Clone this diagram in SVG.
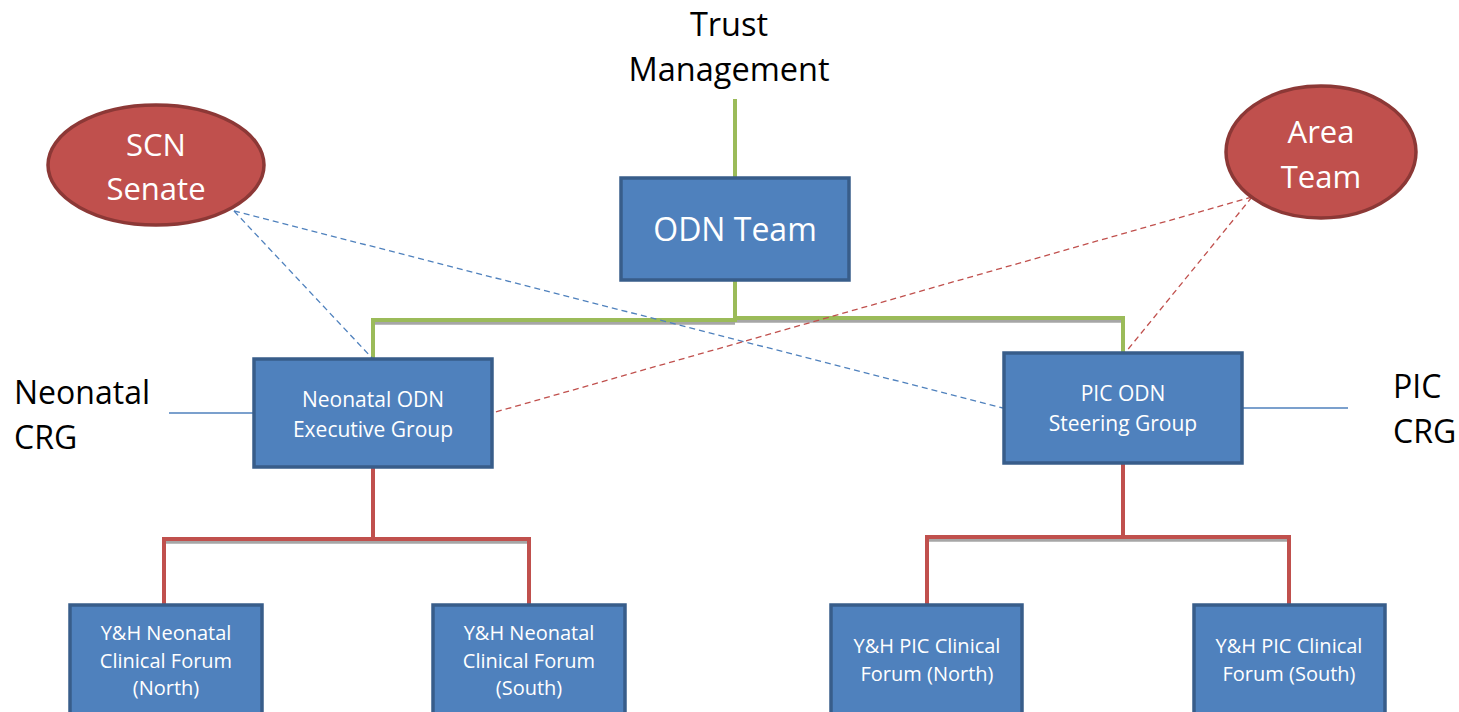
<svg xmlns="http://www.w3.org/2000/svg" width="1459" height="712" viewBox="0 0 1459 712">
  <style>
    .box { fill: #4f81bd; stroke: #385d8a; stroke-width: 3.5; }
    .oval { fill: #c0504d; stroke: #8c3836; stroke-width: 3.5; }
    .wt { fill: #ffffff; font-family: "Open Sans", "Noto Sans", sans-serif; text-anchor: middle; }
    .bk { fill: #000000; font-family: "Open Sans", "Noto Sans", sans-serif; }
    .green { fill: none; stroke: #9bbb59; stroke-width: 4; }
    .red { fill: none; stroke: #c0504d; stroke-width: 4; }
    .shadow { fill: none; stroke: #a6a6a6; stroke-width: 3.5; }
    .dblue { fill: none; stroke: #4f81bd; stroke-width: 1.3; stroke-dasharray: 6 4; }
    .dred { fill: none; stroke: #c0504d; stroke-width: 1.3; stroke-dasharray: 6 4; }
    .thin { fill: none; stroke: #4f81bd; stroke-width: 1.3; }
  </style>
  <rect width="1459" height="712" fill="#ffffff"/>

  <g id="connectors">
    <!-- shadows under horizontal bars -->
    <path class="shadow" d="M373 323 H735 M735 321 H1123"/>
    <path class="shadow" d="M164 542 H529"/>
    <path class="shadow" d="M927 540 H1289"/>
    <!-- management tree -->
    <path class="green" d="M735 99 V178"/>
    <path class="green" d="M735 280 V320 H373 V359"/>
    <path class="green" d="M735 318 H1123 V353"/>
    <!-- forum trees -->
    <path class="red" d="M373 467 V539 M164 604 V539 H529 V604"/>
    <path class="red" d="M1123 463 V537 M927 604 V537 H1289 V604"/>
    <!-- advisory links -->
    <path class="dblue" d="M234 211 L372 358"/>
    <path class="dblue" d="M234 211 L1003 408"/>
    <path class="dred" d="M1252 197 L492 413"/>
    <path class="dred" d="M1252 197 L1125 353"/>
    <!-- CRG links -->
    <path class="thin" d="M169 413 H254"/>
    <path class="thin" d="M1243 408 H1348"/>
  </g>

  <g id="trust-management">
    <text class="bk" x="729" y="36" font-size="32.5" text-anchor="middle">Trust</text>
    <text class="bk" x="729" y="81" font-size="32.5" text-anchor="middle">Management</text>
  </g>

  <g id="odn-team">
    <rect class="box" x="621" y="178" width="228" height="102"/>
    <text class="wt" x="735" y="241" font-size="32">ODN Team</text>
  </g>

  <g id="scn-senate">
    <ellipse class="oval" cx="156" cy="165" rx="108" ry="60"/>
    <text class="wt" x="156" y="156" font-size="31">SCN</text>
    <text class="wt" x="156" y="200" font-size="31">Senate</text>
  </g>

  <g id="area-team">
    <ellipse class="oval" cx="1321" cy="152" rx="95" ry="66"/>
    <text class="wt" x="1321" y="143" font-size="31">Area</text>
    <text class="wt" x="1321" y="188" font-size="31">Team</text>
  </g>

  <g id="neonatal-crg">
    <text class="bk" x="14" y="404" font-size="32">Neonatal</text>
    <text class="bk" x="14" y="449" font-size="32">CRG</text>
  </g>

  <g id="pic-crg">
    <text class="bk" x="1393" y="398" font-size="32">PIC</text>
    <text class="bk" x="1393" y="443" font-size="32">CRG</text>
  </g>

  <g id="neonatal-exec">
    <rect class="box" x="254" y="359" width="238" height="108"/>
    <text class="wt" x="373" y="407" font-size="21">Neonatal ODN</text>
    <text class="wt" x="373" y="437" font-size="21">Executive Group</text>
  </g>

  <g id="pic-steering">
    <rect class="box" x="1004" y="353" width="238" height="110"/>
    <text class="wt" x="1123" y="401" font-size="21">PIC ODN</text>
    <text class="wt" x="1123" y="431" font-size="21">Steering Group</text>
  </g>

  <g id="neonatal-north">
    <rect class="box" x="70" y="605" width="192" height="120"/>
    <text class="wt" x="166" y="640" font-size="20">Y&amp;H Neonatal</text>
    <text class="wt" x="166" y="668" font-size="20">Clinical Forum</text>
    <text class="wt" x="166" y="695" font-size="20">(North)</text>
  </g>

  <g id="neonatal-south">
    <rect class="box" x="433" y="605" width="192" height="120"/>
    <text class="wt" x="529" y="640" font-size="20">Y&amp;H Neonatal</text>
    <text class="wt" x="529" y="668" font-size="20">Clinical Forum</text>
    <text class="wt" x="529" y="695" font-size="20">(South)</text>
  </g>

  <g id="pic-north">
    <rect class="box" x="831" y="605" width="191" height="120"/>
    <text class="wt" x="927" y="653" font-size="20">Y&amp;H PIC Clinical</text>
    <text class="wt" x="927" y="681" font-size="20">Forum (North)</text>
  </g>

  <g id="pic-south">
    <rect class="box" x="1194" y="605" width="191" height="120"/>
    <text class="wt" x="1289" y="653" font-size="20">Y&amp;H PIC Clinical</text>
    <text class="wt" x="1289" y="681" font-size="20">Forum (South)</text>
  </g>
</svg>
